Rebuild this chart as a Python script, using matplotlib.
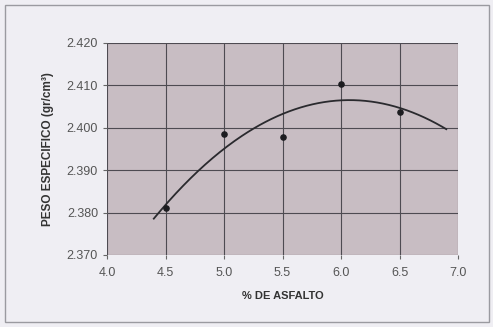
import numpy as np
import matplotlib
matplotlib.use("Agg")
import matplotlib.pyplot as plt
from matplotlib.patches import Rectangle

plt.rcParams["font.family"] = ["Liberation Sans", "DejaVu Sans"]

# Laboratory results: specific weight vs. asphalt content
asfalto = [4.5, 5.0, 5.5, 6.0, 6.5]
peso = [2.381, 2.3985, 2.3978, 2.4103, 2.4037]

x_ticks = [4.0, 4.5, 5.0, 5.5, 6.0, 6.5, 7.0]
y_ticks = [2.370, 2.380, 2.390, 2.400, 2.410, 2.420]
x_tick_labels = ["4.0", "4.5", "5.0", "5.5", "6.0", "6.5", "7.0"]
y_tick_labels = ["2.370", "2.380", "2.390", "2.400", "2.410", "2.420"]

W, H = 493, 327
fig = plt.figure(figsize=(W / 100, H / 100), dpi=100)
fig.patch.set_facecolor("#efeef3")

# outer chart frame
fig.patches.append(Rectangle((5 / W, 5 / H), 484 / W, 317 / H, transform=fig.transFigure,
                             fill=False, edgecolor="#9a9aa0", linewidth=1.0))

ax = fig.add_axes([107 / W, 1 - 255 / H, (458 - 107) / W, (255 - 43) / H])
ax.set_facecolor("#c8bdc3")

# second-order trend line
coef = np.polyfit(asfalto, peso, 2)
xt = np.linspace(4.4, 6.9, 200)
ax.plot(xt, np.polyval(coef, xt), color="#2a2a2e", linewidth=1.3, zorder=3)
ax.scatter(asfalto, peso, s=14, color="#1c1c20", zorder=4)

ax.set_xlim(4.0, 7.0)
ax.set_ylim(2.370, 2.420)
ax.set_xticks(x_ticks)
ax.set_xticklabels(x_tick_labels)
ax.set_yticks(y_ticks)
ax.set_yticklabels(y_tick_labels)
ax.grid(True, color="#4e4b52", linewidth=0.8)
ax.set_axisbelow(True)
for s in ax.spines.values():
    s.set_visible(False)
ax.tick_params(axis="both", length=3, color="#666", labelsize=9, labelcolor="#555")
ax.tick_params(axis="x", pad=6)

ax.set_xlabel("% DE ASFALTO", fontsize=8, fontweight="bold", color="#333", labelpad=8)
ax.set_ylabel("PESO ESPECIFICO (gr/cm³)", fontsize=8.5, fontweight="bold", color="#333", labelpad=9)

fig.savefig("out.png", dpi=100, facecolor=fig.get_facecolor())
